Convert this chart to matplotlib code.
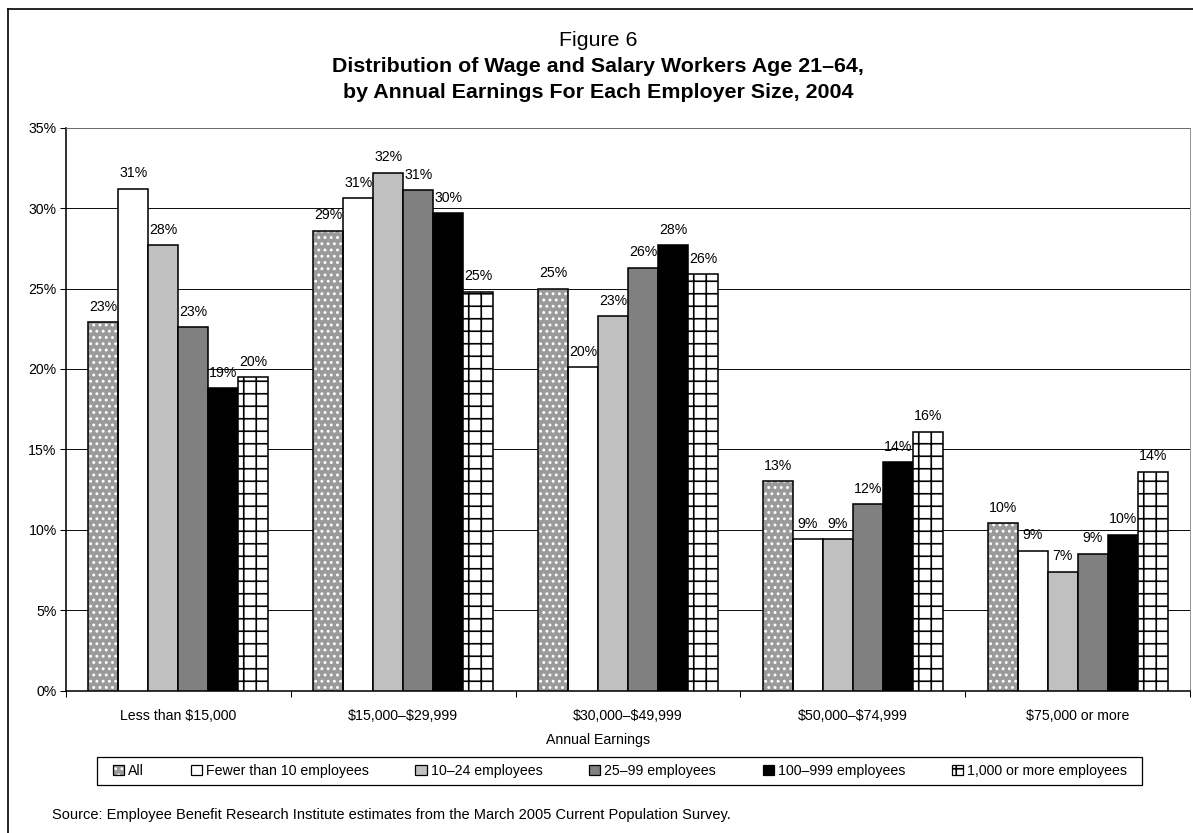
import matplotlib
matplotlib.use("Agg")
import matplotlib.pyplot as plt
import numpy as np
from matplotlib.lines import Line2D
from matplotlib.patches import Patch, Rectangle
from matplotlib.legend_handler import HandlerTuple

W, H, DPI = 1193, 833, 75

categories = ["Less than \\$15,000", "\\$15,000\u2013\\$29,999", "\\$30,000\u2013\\$49,999",
              "\\$50,000\u2013\\$74,999", "\\$75,000 or more"]
series_names = ["All", "Fewer than 10 employees", "10\u201324 employees",
                "25\u201399 employees", "100\u2013999 employees", "1,000 or more employees"]
all_workers = [22.9, 28.6, 25.0, 13.0, 10.4]
fewer_10 = [31.2, 30.6, 20.1, 9.4, 8.7]
emp_10_24 = [27.7, 32.2, 23.3, 9.4, 7.4]
emp_25_99 = [22.6, 31.1, 26.3, 11.6, 8.5]
emp_100_999 = [18.8, 29.7, 27.7, 14.2, 9.7]
emp_1000_plus = [19.5, 24.8, 25.9, 16.1, 13.6]
series_values = [all_workers, fewer_10, emp_10_24, emp_25_99, emp_100_999, emp_1000_plus]

# face colour, hatch, hatch colour
styles = [
    ("#9a9a9a", "..", "white"),
    ("white", None, None),
    ("#c0c0c0", None, None),
    ("#808080", None, None),
    ("black", None, None),
    ("white", "+", "black"),
]

plt.rcParams["font.family"] = ["Liberation Sans", "DejaVu Sans"]
plt.rcParams["hatch.linewidth"] = 1.6

FS = 13.5
fig = plt.figure(figsize=(W / DPI, H / DPI), dpi=DPI)


def fx(px):
    return px / W


def fy(py):
    return 1 - py / H


ax = fig.add_axes([fx(66), fy(690.5), fx(1190) - fx(66), fy(127.7) - fy(690.5)])

x = np.arange(len(categories))
bw = 30 / 224.8
n = len(series_values)
handles = []
for i, (vals, (fc, hatch, hc)) in enumerate(zip(series_values, styles)):
    pos = x + (i - (n - 1) / 2) * bw
    if hatch:
        ax.bar(pos, vals, bw, color=fc, edgecolor=hc, hatch=hatch, linewidth=0, zorder=3)
        ax.bar(pos, vals, bw, fill=False, edgecolor="black", linewidth=1.5, zorder=4)
        h = (Patch(facecolor=fc, edgecolor=hc, hatch=hatch, linewidth=0),
             Patch(fill=False, edgecolor="black", linewidth=1.2))
    else:
        ax.bar(pos, vals, bw, color=fc, edgecolor="black", linewidth=1.5, zorder=3)
        h = Patch(facecolor=fc, edgecolor="black", linewidth=1.2)
    handles.append(h)
    for px, v in zip(pos, vals):
        ax.annotate(f"{int(v + 0.5)}%", (px, v), xytext=(0, 8), textcoords="offset points",
                    ha="center", va="bottom", fontsize=FS, zorder=5)

ax.set_ylim(0, 35)
ax.set_xlim(-0.5, len(categories) - 0.5)
ax.set_yticks(np.arange(0, 36, 5))
ax.set_yticklabels([f"{v}%" for v in range(0, 36, 5)], fontsize=FS)
ax.yaxis.grid(True, color="black", linewidth=0.9, zorder=0)
ax.set_axisbelow(True)

ax.set_xticks(np.arange(-0.5, len(categories) + 0.5, 1))
ax.set_xticklabels([])
ax.set_xticks(x, minor=True)
ax.set_xticklabels(categories, minor=True, fontsize=FS)
ax.tick_params(axis="x", which="minor", length=0, pad=18)
ax.tick_params(axis="x", which="major", length=6, width=1, direction="out")
ax.tick_params(axis="y", length=6, width=1, direction="out", pad=3)

ax.spines["top"].set_color("#808080")
ax.spines["right"].set_color("#808080")
ax.spines["left"].set_linewidth(1.5)
ax.spines["bottom"].set_linewidth(1.5)

fig.text(fx(598), fy(740), "Annual Earnings", ha="center", va="center", fontsize=FS)

fig.text(fx(598), fy(40), "Figure 6", ha="center", va="center", fontsize=20.5)
fig.text(fx(598), fy(66), "Distribution of Wage and Salary Workers Age 21\u201364,",
         ha="center", va="center", fontsize=20.5, fontweight="bold")
fig.text(fx(598), fy(92), "by Annual Earnings For Each Employer Size, 2004",
         ha="center", va="center", fontsize=20.5, fontweight="bold")

fig.legend(handles, series_names, loc="center", bbox_to_anchor=(fx(620), fy(771)),
           ncol=6, fontsize=FS, frameon=False,
           handlelength=0.8, handleheight=0.8, handletextpad=0.3, columnspacing=3.3,
           handler_map={tuple: HandlerTuple(ndivide=1)})
fig.add_artist(Rectangle((fx(97), fy(785)), fx(1142) - fx(97), fy(757) - fy(785),
                         transform=fig.transFigure, fill=False, edgecolor="black",
                         linewidth=1.2))

fig.text(fx(52), fy(815), "Source: Employee Benefit Research Institute estimates from the "
         "March 2005 Current Population Survey.", ha="left", va="center", fontsize=14)

# outer frame (top and left edges only)
fig.add_artist(Line2D([fx(8), 1], [fy(9), fy(9)], color="black", linewidth=1.6))
fig.add_artist(Line2D([fx(8), fx(8)], [fy(9), 0], color="black", linewidth=1.6))

fig.savefig("out.png", dpi=DPI)
